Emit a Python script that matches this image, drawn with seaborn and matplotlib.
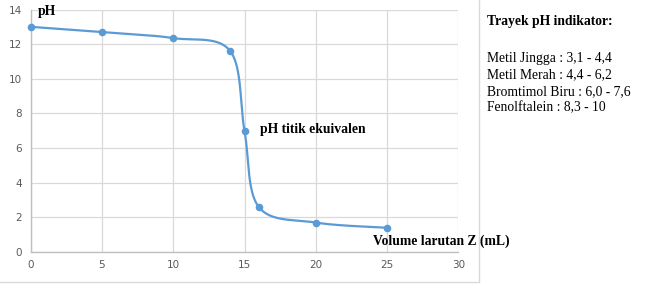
import numpy as np
import pandas as pd
import matplotlib
matplotlib.use("Agg")
import matplotlib.pyplot as plt
import seaborn as sns
from matplotlib.lines import Line2D

# Data
volume = [0, 5, 10, 14, 15, 16, 20, 25]
ph = [13.0, 12.7, 12.35, 11.6, 7.0, 2.6, 1.7, 1.4]
x_ticks = [0, 5, 10, 15, 20, 25, 30]
y_ticks = [0, 2, 4, 6, 8, 10, 12, 14]
indicator_title = "Trayek pH indikator:"
indicators = ["Metil Jingga : 3,1 - 4,4",
              "Metil Merah : 4,4 - 6,2",
              "Bromtimol Biru : 6,0 - 7,6",
              "Fenolftalein : 8,3 - 10"]

sns.set_theme(style="white")
plt.rcParams['font.family'] = ['DejaVu Sans']

BLUE = "#5b9bd5"
GRID = "#d9d9d9"
TICK = "#595959"


def excel_smooth(xs, ys, n=40):
    """Catmull-Rom style Bezier smoothing (like Excel's smoothed line)."""
    P = np.column_stack([xs, ys]).astype(float)
    out = []
    m = len(P)
    for i in range(m - 1):
        p0 = P[i - 1] if i > 0 else P[i]
        p1 = P[i]
        p2 = P[i + 1]
        p3 = P[i + 2] if i + 2 < m else P[i + 1]
        c1 = p1 + (p2 - p0) / 6.0
        c2 = p2 - (p3 - p1) / 6.0
        t = np.linspace(0, 1, n)[:, None]
        seg = ((1 - t) ** 3) * p1 + 3 * ((1 - t) ** 2) * t * c1 + 3 * (1 - t) * t ** 2 * c2 + t ** 3 * p2
        out.append(seg if i == 0 else seg[1:])
    return np.vstack(out)


curve = excel_smooth(volume, ph)
smooth_df = pd.DataFrame({"x": curve[:, 0], "y": curve[:, 1], "order": np.arange(len(curve))})
pts_df = pd.DataFrame({"volume": volume, "ph": ph})

fig = plt.figure(figsize=(6.45, 2.98), dpi=100)
ax = fig.add_axes([30.7 / 645, 1 - 252 / 298, (458.3 - 30.7) / 645, (252 - 9.5) / 298])

sns.lineplot(data=smooth_df, x="x", y="y", sort=False, estimator=None, color=BLUE,
             linewidth=1.6, ax=ax, zorder=3)
sns.scatterplot(data=pts_df, x="volume", y="ph", color=BLUE, s=30, edgecolor=BLUE,
                linewidth=0, ax=ax, zorder=4, clip_on=False)

ax.set_xlim(0, 30)
ax.set_ylim(0, 14)
ax.set_xticks(x_ticks)
ax.set_yticks(y_ticks)
ax.tick_params(axis="both", labelsize=7.5, colors=TICK, length=0, pad=6)
ax.set_xlabel("")
ax.set_ylabel("")
ax.grid(True, color=GRID, linewidth=0.9)
ax.set_axisbelow(True)
for s in ["top", "right"]:
    ax.spines[s].set_visible(False)
for s in ["left", "bottom"]:
    ax.spines[s].set_color("#bfbfbf")
    ax.spines[s].set_linewidth(1.0)

serif = ["Liberation Serif", "DejaVu Serif"]
fs = 9.8
fig.text(38 / 645, 1 - 12 / 298, "pH", family=serif, weight="bold", fontsize=fs,
         va="center", ha="left", color="black")
fig.text(260 / 645, 1 - 130 / 298, "pH titik ekuivalen", family=serif, weight="bold",
         fontsize=fs, va="center", ha="left", color="black")
fig.text(373 / 645, 1 - 241 / 298, "Volume larutan Z (mL)", family=serif, weight="bold",
         fontsize=fs, va="center", ha="left", color="black")

fig.text(487 / 645, 1 - 22 / 298, indicator_title, family=serif, weight="bold",
         fontsize=fs, va="center", ha="left", color="black")
for i, line in enumerate(indicators):
    fig.text(487 / 645, 1 - (58 + i * 16.7) / 298, line, family=serif,
             fontsize=fs, va="center", ha="left", color="black")

# chart-area frame (right and bottom edges)
fig.add_artist(Line2D([478.5 / 645, 478.5 / 645], [1, 1 - 282 / 298],
                      transform=fig.transFigure, color="#d9d9d9", linewidth=1.0))
fig.add_artist(Line2D([0, 478.5 / 645], [1 - 282 / 298, 1 - 282 / 298],
                      transform=fig.transFigure, color="#d9d9d9", linewidth=1.0))

fig.savefig("out.png", dpi=100, facecolor="white")
